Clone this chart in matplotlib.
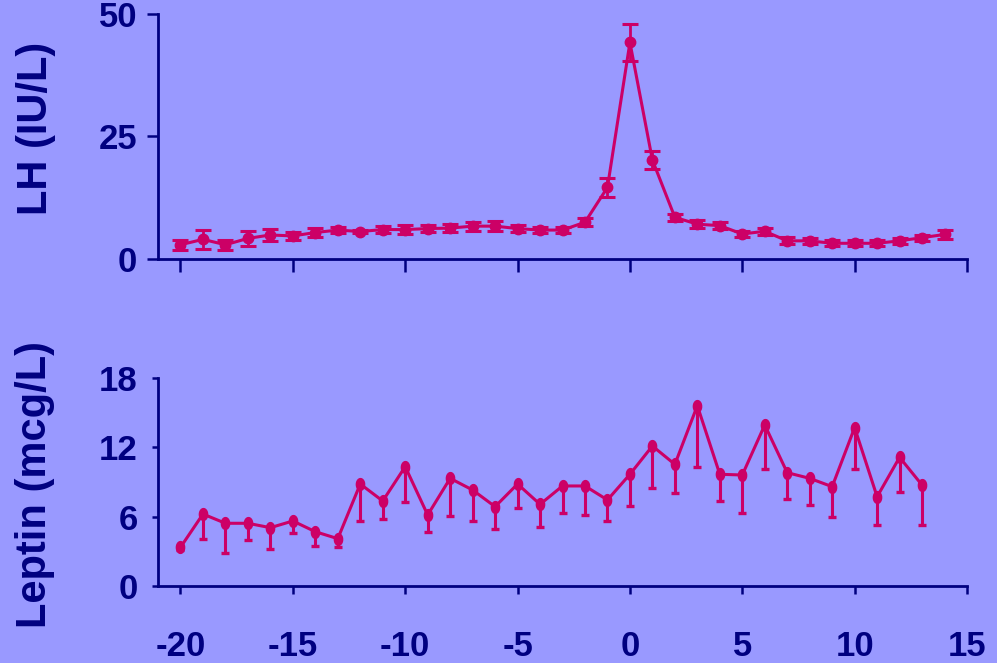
import numpy as np
import matplotlib
matplotlib.use("Agg")
import matplotlib.pyplot as plt

# ---- data ----
lh_days = list(range(-20, 15))
lh_mean = [2.9, 4.0, 2.9, 4.2, 4.9, 4.7, 5.4, 5.9, 5.6, 6.0, 6.0, 6.2, 6.3, 6.7, 6.7, 6.2, 5.9,
           5.9, 7.5, 14.6, 44.2, 20.2, 8.5, 7.1, 6.8, 5.1, 5.65, 3.7, 3.7, 3.2, 3.2, 3.2, 3.7, 4.35, 5.0]
lh_err = [1.0, 1.9, 1.0, 1.5, 1.2, 0.85, 0.9, 0.7, 0.4, 0.75, 0.9, 0.75, 0.75, 0.9, 1.0, 0.7, 0.6,
          0.65, 0.8, 1.9, 3.7, 1.9, 0.75, 0.85, 0.7, 0.65, 0.75, 0.7, 0.65, 0.6, 0.6, 0.6, 0.65, 0.6, 0.9]

lep_days = list(range(-20, 14))
lep_mean = [3.35, 6.23, 5.43, 5.43, 5.05, 5.63, 4.7, 4.1, 8.83, 7.36, 10.33, 6.15, 9.32, 8.31, 6.87,
            8.83, 7.07, 8.66, 8.66, 7.45, 9.67, 12.12, 10.53, 15.61, 9.67, 9.61, 13.94, 9.81, 9.32,
            8.6, 13.71, 7.73, 11.14, 8.74]
lep_err = [0.2, 2.16, 2.6, 1.45, 1.85, 1.0, 1.2, 0.7, 3.2, 1.56, 3.08, 1.5, 3.3, 2.66, 1.96,
           2.1, 2.0, 2.3, 2.5, 1.8, 2.74, 3.66, 2.5, 5.33, 2.28, 3.32, 3.78, 2.31, 2.31,
           2.65, 3.55, 2.48, 3.0, 3.46]

lh_yticks = [0, 25, 50]
lep_yticks = [0, 6, 12, 18]
xticks = [-20, -15, -10, -5, 0, 5, 10, 15]

# ---- style ----
BG = "#9999FF"
RED = "#CC0066"
NAVY = "#000080"
plt.rcParams['font.family'] = ['Liberation Sans', 'DejaVu Sans']
plt.rcParams['font.weight'] = 'bold'

fig = plt.figure(figsize=(9.97, 6.63), dpi=100, facecolor=BG)
ax1 = fig.add_axes([0.1585, 0.6094, 0.8114, 0.3695])
ax2 = fig.add_axes([0.1585, 0.1161, 0.8114, 0.3137])

for ax in (ax1, ax2):
    ax.set_facecolor(BG)
    for s in ('top', 'right'):
        ax.spines[s].set_visible(False)
    for s in ('left', 'bottom'):
        ax.spines[s].set_color(NAVY)
        ax.spines[s].set_linewidth(2.0)
    ax.set_xlim(-21, 15)
    ax.set_xticks(xticks)

# top panel
ax1.errorbar(lh_days, lh_mean, yerr=lh_err, color=RED, lw=2.2, elinewidth=2.0,
             capsize=6, capthick=2.2, marker='o', ms=7.5, mfc=RED, mec=RED, zorder=3)
ax1.set_ylim(0, 50)
ax1.set_yticks(lh_yticks)
ax1.tick_params(axis='y', colors=NAVY, length=8, width=1.8, pad=7, labelsize=25)
ax1.tick_params(axis='x', colors=NAVY, length=9, width=1.8, labelbottom=False)
for lab in ax1.get_yticklabels():
    lab.set_fontweight('bold')

# bottom panel
t = np.linspace(0, 2 * np.pi, 40)
ellipse = np.column_stack([0.7 * np.cos(t), np.sin(t)])
ax2.errorbar(lep_days, lep_mean, yerr=[lep_err, np.zeros(len(lep_err))], fmt='none',
             ecolor=RED, elinewidth=2.2, capsize=2.6, capthick=2.4, zorder=2)
ax2.plot(lep_days, lep_mean, color=RED, lw=2.2, marker=ellipse, ms=8.5,
         mfc=RED, mec=RED, zorder=3)
ax2.set_ylim(0, 18)
ax2.set_yticks(lep_yticks)
ax2.tick_params(axis='y', colors=NAVY, length=4.5, width=1.8, pad=10, labelsize=25)
ax2.tick_params(axis='x', colors=NAVY, length=6, width=1.8, pad=26, labelsize=25)
for lab in ax2.get_yticklabels() + ax2.get_xticklabels():
    lab.set_fontweight('bold')
ax2.set_xticklabels([str(v) for v in xticks])

fig.text(0.0361, 0.807, "LH (IU/L)", rotation=90, ha='center', va='center',
         fontsize=30, fontweight='bold', color=NAVY)
fig.text(0.0352, 0.2692, "Leptin (mcg/L)", rotation=90, ha='center', va='center',
         fontsize=30, fontweight='bold', color=NAVY)

fig.savefig("out.png", dpi=100, facecolor=BG)
